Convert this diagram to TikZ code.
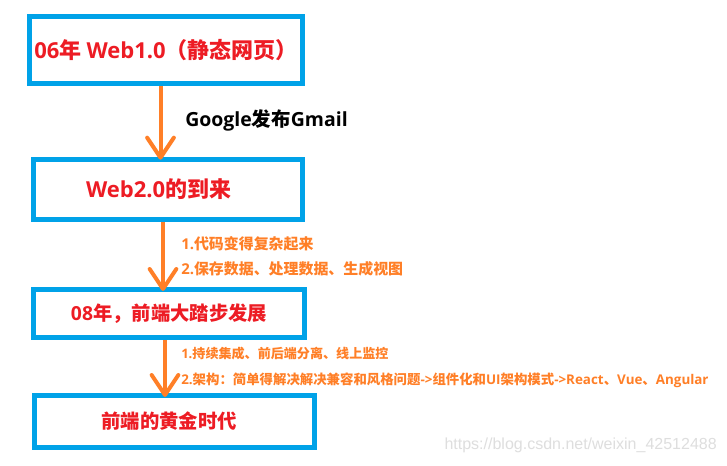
\documentclass[tikz,border=0pt]{standalone}
\usepackage{fontspec}
\newfontfamily\cjk{Noto Sans CJK SC}
\newfontfamily\latf{Open Sans}
\newfontfamily\wmfont{Liberation Sans}
\newcommand\ltn[1]{{\latf\bfseries #1}}
\usetikzlibrary{arrows.meta}
\definecolor{boxblue}{HTML}{00A2E8}
\definecolor{boxred}{HTML}{ED1C24}
\definecolor{arrorange}{HTML}{FF7F27}
\tikzset{
  stagebox/.style={draw=boxblue, line width=3.75pt, fill=white, inner sep=0pt,
    font=\cjk\bfseries\fontsize{14.5pt}{17pt}\selectfont, text=boxred},
  bigstage/.style={stagebox, font=\cjk\bfseries\fontsize{16.5pt}{19pt}\selectfont},
  flowarrow/.style={draw=arrorange, line width=3pt,
    -{Straight Barb[length=15pt,width=20pt,line cap=round,line join=round]}},
  orangelabel/.style={anchor=west, inner sep=0pt, text=arrorange,
    font=\cjk\bfseries\fontsize{11.2pt}{13pt}\selectfont},
  smalllabel/.style={orangelabel, font=\cjk\bfseries\fontsize{9.8pt}{12pt}\selectfont},
  blacklabel/.style={anchor=west, inner sep=0pt, text=black,
    font=\cjk\bfseries\fontsize{14.6pt}{16pt}\selectfont},
}
\begin{document}
\begin{tikzpicture}[x=0.75pt,y=-0.75pt]
\useasboundingbox (0,0) rectangle (727,465);
\fill[white] (0,0) rectangle (727,465);
\node[bigstage, minimum width=273*0.75pt, minimum height=67*0.75pt] (b1) at (166,50) {\ltn{06}年 \ltn{Web1.0}（静态网页）};
\node[bigstage, minimum width=269*0.75pt, minimum height=60*0.75pt] (b2) at (168,189.5) {\hspace*{-14pt}\ltn{Web2.0}的到来};
\node[stagebox, minimum width=271*0.75pt, minimum height=48*0.75pt] (b3) at (169,313.5) {\ltn{08}年，前端大踏步发展};
\node[stagebox, minimum width=280*0.75pt, minimum height=52*0.75pt] (b4) at (174.5,421.5) {\hspace*{-8pt}前端的黄金时代};
\coordinate (x1) at (160.5,0);
\coordinate (x2) at (163,0);
\coordinate (x3) at (165,0);
\draw[flowarrow, shorten >=-2pt] (b1.south -| x1) -- (b2.north -| x1);
\draw[flowarrow, shorten >=-3pt] (b2.south -| x2) -- (b3.north -| x2);
\draw[flowarrow, shorten >=-3pt] (b3.south -| x3) -- (b4.north -| x3);
\node[blacklabel] (g) at (185,120) {\ltn{Google}发布\ltn{Gmail}};
\node[orangelabel] (l1) at (181,244) {\ltn{1.}代码变得复杂起来};
\node[orangelabel] (l2) at (181,269) {\ltn{2.}保存数据、处理数据、生成视图};
\node[smalllabel] (l3) at (181,354) {\ltn{1.}持续集成、前后端分离、线上监控};
\node[smalllabel, font=\cjk\bfseries\fontsize{10.05pt}{12pt}\selectfont] (l4) at (181,380) {\ltn{2.}架构：简单得解决解决兼容和风格问题\ltn{->}组件化和\ltn{UI}架构模式\ltn{->React}、\ltn{Vue}、\ltn{Angular}};
\node[anchor=east, inner sep=0pt, text=black!13, font=\wmfont\fontsize{12pt}{14pt}\selectfont] (wm) at (717,445) {https://blog.csdn.net/weixin\_42512488};
\end{tikzpicture}
\end{document}
